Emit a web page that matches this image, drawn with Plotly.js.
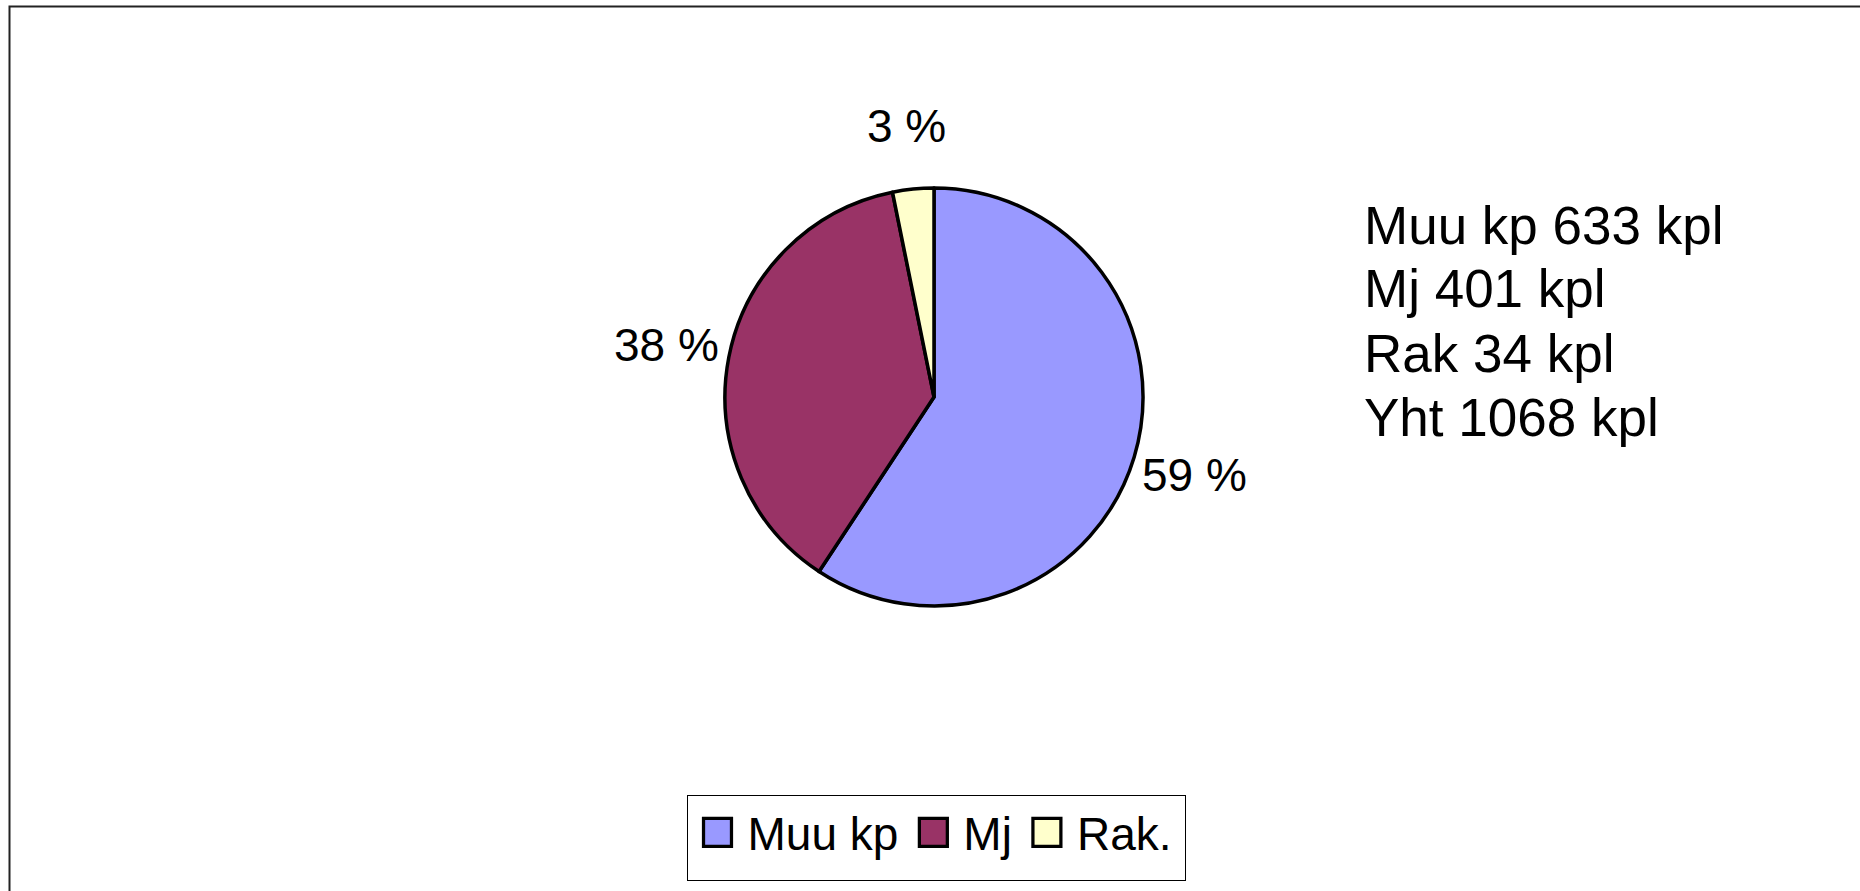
<!DOCTYPE html>
<html>
<head>
<meta charset="utf-8">
<script src="https://cdn.plot.ly/plotly-3.0.1.min.js"></script>
<style>
html,body{margin:0;padding:0;background:#fff;}
#chart{width:1860px;height:891px;}
</style>
</head>
<body>
<div id="chart"></div>
<script>
// Data
var categories = ["Muu kp", "Mj", "Rak."];
var countLabels = ["Muu kp", "Mj", "Rak"];
var counts = [633, 401, 34];
var colors = ["#9999FF", "#993366", "#FFFFCC"];
var unit = "kpl";
var totalLabel = "Yht";

var total = counts.reduce(function(a, b){ return a + b; }, 0);
var pctText = counts.map(function(v){ return Math.round(v / total * 100) + " %"; });

var W = 1860, H = 891;
var FONT = "Liberation Sans, Arial, sans-serif";

// pie geometry (layout)
var CX = 934, CY = 397, R = 209, LABEL_R = 272;

var trace = {
  type: "pie",
  labels: categories,
  values: counts,
  textinfo: "none",
  sort: false,
  direction: "clockwise",
  rotation: 0,
  marker: {colors: colors, line: {color: "#000", width: 3.5}},
  domain: {x: [(CX - R) / W, (CX + R) / W], y: [1 - (CY + R) / H, 1 - (CY - R) / H]},
  hoverinfo: "label+value+percent"
};

// percent labels placed outside each slice at its mid angle (clockwise from 12 o'clock)
var annotations = [];
var cum = 0;
counts.forEach(function(v, i){
  var mid = (cum + v / 2) / total * 2 * Math.PI;
  cum += v;
  var px = CX + LABEL_R * Math.sin(mid);
  var py = CY - LABEL_R * Math.cos(mid);
  annotations.push({
    text: pctText[i], xref: "paper", yref: "paper",
    x: px / W, y: 1 - py / H, xanchor: "center", yanchor: "middle",
    showarrow: false, font: {family: FONT, size: 46, color: "#000"}
  });
});

// Summary text block on the right
var lines = countLabels.map(function(l, i){ return l + " " + counts[i] + " " + unit; });
lines.push(totalLabel + " " + total + " " + unit);
lines.forEach(function(t, i){
  annotations.push({
    text: t, xref: "paper", yref: "paper",
    x: 1362 / W, y: 1 - (225 + i * 64) / H,
    xanchor: "left", yanchor: "middle", showarrow: false,
    font: {family: FONT, size: 53, color: "#000"}
  });
});

var layout = {
  width: W, height: H,
  margin: {l: 0, r: 0, t: 0, b: 0},
  paper_bgcolor: "#fff",
  font: {family: FONT, color: "#000"},
  showlegend: true,
  legend: {
    orientation: "h",
    x: 932 / W, xanchor: "center",
    y: 1 - 795 / H, yanchor: "top",
    font: {family: FONT, size: 46, color: "#000"},
    bgcolor: "#fff", bordercolor: "#000", borderwidth: 1,
    itemwidth: 50,
    traceorder: "normal"
  },
  annotations: annotations,
  shapes: [{
    type: "rect", xref: "paper", yref: "paper",
    x0: 9.5 / W, x1: 1.02, y0: -0.02, y1: 1 - 6.5 / H,
    line: {color: "#222", width: 2}, fillcolor: "rgba(0,0,0,0)", layer: "below"
  }]
};

Plotly.newPlot("chart", [trace], layout, {displayModeBar: false}).then(function(gd){
  document.querySelectorAll(".legendpie").forEach(function(p){
    var t = p.getAttribute("transform") || "";
    p.setAttribute("transform", t + " scale(2.33)");
    p.style.strokeWidth = "1.4px";
  });
  var bg = document.querySelector(".legend rect.bg");
  if (bg) {
    var h = parseFloat(bg.getAttribute("height"));
    var w = parseFloat(bg.getAttribute("width"));
    bg.setAttribute("height", h + 11);
    bg.setAttribute("width", w + 8);
  }
});
</script>
</body>
</html>
